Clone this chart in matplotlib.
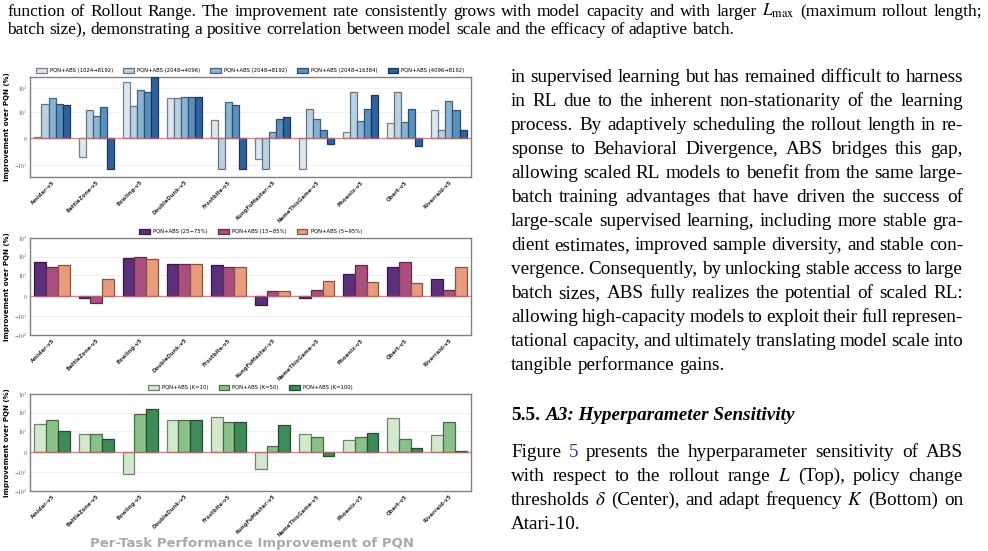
import numpy as np
import matplotlib.pyplot as plt

plt.rcParams['mathtext.fontset'] = 'stix'

W, H = 988, 551

games = ["Amidar-v5", "BattleZone-v5", "Bowling-v5", "DoubleDunk-v5", "Frostbite-v5",
         "KungFuMaster-v5", "NameThisGame-v5", "Phoenix-v5", "Qbert-v5", "Riverraid-v5"]

# top: rollout range
range_labels = ["PQN+ABS (1024→8192)", "PQN+ABS (2048→4096)", "PQN+ABS (2048→8192)",
                "PQN+ABS (2048→16384)", "PQN+ABS (4096→8192)"]
r_1024_8192 = [0.4, -7.1, 177, 40, 7.0, -7.9, -14.7, 2.5, 6.0, 11.8]
r_2048_4096 = [21, 11.8, 17, 40, -14.7, -14.7, 12.9, 67, 67, 3.3]
r_2048_8192 = [39, 8.3, 80, 42, 27, 2.4, 7.3, 6.7, 6.3, 29]
r_2048_16384 = [22, 15.5, 71, 42, 19.6, 7.3, 3.0, 12.9, 12.9, 12.5]
r_4096_8192 = [19, -15, 277, 41, -15.5, 8.2, -2.0, 49, -2.7, 3.3]
range_colors = ["#dce7f2", "#b9d1e5", "#87b5d5", "#5990bf", "#2f629c"]

# middle: policy change thresholds
delta_labels = ["PQN+ABS (25−75%)", "PQN+ABS (15−85%)", "PQN+ABS (5−95%)"]
d_25_75 = [50, -1.3, 86, 40, 34, -4.5, -0.9, 11.2, 26, 8.2]
d_15_85 = [28, -3.5, 96, 40, 26, 2.3, 3.0, 37, 48, 3.0]
d_5_95 = [34, 8.3, 76, 40, 26, 2.3, 7.0, 6.8, 6.2, 28]
delta_colors = ["#5c2e7b", "#aa4f80", "#e99b7d"]

# bottom: adapt frequency
k_labels = ["PQN+ABS (K=10)", "PQN+ABS (K=50)", "PQN+ABS (K=100)"]
k_10 = [24, 8.5, -12, 42, 60, -8.4, 8.5, 5.5, 48, 8.0]
k_50 = [39, 8.5, 86, 42, 30, 2.6, 7.3, 7.0, 6.3, 31]
k_100 = [9.9, 6.2, 155, 39, 33, 21, -2.2, 9.1, 1.9, 0.3]
k_colors = ["#d3e9cc", "#89c188", "#3f8a58"]


def edge(c):
    rgb = np.array(plt.matplotlib.colors.to_rgb(c))
    return tuple(rgb * 0.55)


def panel(rect, series, labels, colors, yticks, yticklabels, ylim, colsp):
    x0, y0, x1, y1 = rect
    ax = fig.add_axes([x0 / W, 1 - y1 / H, (x1 - x0) / W, (y1 - y0) / H])
    ax.set_yscale('symlog', linthresh=10, linscale=1)
    x = np.arange(len(games))
    n = len(series)
    w = 0.8 / n
    for i, (vals, lab, c) in enumerate(zip(series, labels, colors)):
        ax.bar(x - 0.4 + w * (i + 0.5), vals, w, color=c, edgecolor=edge(c),
               linewidth=0.9, label=lab, zorder=3)
    ax.axhline(0, color="#e06666", lw=1.0, alpha=0.8, zorder=4)
    ax.set_xlim(-0.5, len(games) - 0.5)
    ax.set_ylim(*ylim)
    ax.set_yticks(yticks)
    ax.set_yticklabels(yticklabels, fontsize=4, color="#555555")
    ax.yaxis.set_minor_locator(plt.NullLocator())
    ax.set_xticks(x)
    ax.set_xticklabels(games, rotation=45, ha='right', rotation_mode='anchor',
                       fontsize=3.9, fontweight='bold', color="#333333")
    ax.tick_params(length=0, pad=2)
    ax.grid(axis='y', color="#eeeeee", lw=0.6, zorder=0)
    for s in ax.spines.values():
        s.set_color("#808080")
        s.set_linewidth(1.0)
    ax.set_ylabel("Improvement over PQN (%)", fontsize=5, fontweight='bold', labelpad=3)
    ax.legend(loc='lower center', bbox_to_anchor=(0.5, 1.0), ncol=n, frameon=False,
              fontsize=3.8, handlelength=2.0, handleheight=0.9, columnspacing=colsp,
              handletextpad=0.6, borderaxespad=0.3)
    return ax


fig = plt.figure(figsize=(W / 100, H / 100), dpi=100)

panel((30, 77, 471, 177),
      [r_1024_8192, r_2048_4096, r_2048_8192, r_2048_16384, r_4096_8192],
      range_labels, range_colors,
      [-10, 0, 10, 100], [r'$-10^{1}$', r'$0$', r'$10^{1}$', r'$10^{2}$'], (-32, 290), 1.9)
big_ticks = [-100, -10, 0, 10, 100, 1000]
big_labels = [r'$-10^{2}$', r'$-10^{1}$', r'$0$', r'$10^{1}$', r'$10^{2}$', r'$10^{3}$']
panel((30, 238, 471, 335), [d_25_75, d_15_85, d_5_95], delta_labels, delta_colors,
      big_ticks, big_labels, (-100, 1000), 2.0)
panel((30, 394, 471, 491), [k_10, k_50, k_100], k_labels, k_colors,
      big_ticks, big_labels, (-100, 1000), 2.0)

# ---- surrounding page text ----
serif = "Liberation Serif"
renderer = fig.canvas.get_renderer()


def put_line(words, x0, x1, y, size, justify, style='normal', weight='normal', colors=None):
    colors = colors or {}
    ts = [fig.text(0, 1 - y / H, wd, fontsize=size, family=serif, va='baseline',
                   style=style, weight=weight, color=colors.get(wd, 'black'))
          for wd in words]
    widths = [t.get_window_extent(renderer).width for t in ts]
    if justify and len(words) > 1:
        gap = (x1 - x0 - sum(widths)) / (len(words) - 1)
    else:
        gap = size * 100 / 72 * 0.25
    x = x0
    for t, wd in zip(ts, widths):
        t.set_x(x / W)
        x += wd + gap


caption = [
    "function of Rollout Range. The improvement rate consistently grows with model capacity and with larger $L_{\\max}$ (maximum rollout length;",
    "batch size), demonstrating a positive correlation between model scale and the efficacy of adaptive batch.",
]
for i, ln in enumerate(caption):
    put_line(ln.split(' '), 7, 982, 16 + 18.5 * i, 12.5, i == 0)

body = [
    "in supervised learning but has remained difficult to harness",
    "in RL due to the inherent non-stationarity of the learning",
    "process. By adaptively scheduling the rollout length in re-",
    "sponse to Behavioral Divergence, ABS bridges this gap,",
    "allowing scaled RL models to benefit from the same large-",
    "batch training advantages that have driven the success of",
    "large-scale supervised learning, including more stable gra-",
    "dient estimates, improved sample diversity, and stable con-",
    "vergence. Consequently, by unlocking stable access to large",
    "batch sizes, ABS fully realizes the potential of scaled RL:",
    "allowing high-capacity models to exploit their full represen-",
    "tational capacity, and ultimately translating model scale into",
    "tangible performance gains.",
]
for i, ln in enumerate(body):
    put_line(ln.split(' '), 511, 963, 82 + 24 * i, 13.8, i < len(body) - 1)

fig.text(511 / W, 1 - 420 / H, "5.5.", fontsize=13.8, family=serif, weight='bold', va='baseline')
fig.text(546 / W, 1 - 420 / H, "A3: Hyperparameter Sensitivity", fontsize=13.8, family=serif,
         weight='bold', style='italic', va='baseline')

para = [
    "Figure 5 presents the hyperparameter sensitivity of ABS",
    "with respect to the rollout range $L$ (Top), policy change",
    "thresholds $\\delta$ (Center), and adapt frequency $K$ (Bottom) on",
    "Atari-10.",
]
for i, ln in enumerate(para):
    put_line(ln.split(' '), 511, 963, 457 + 24 * i, 13.8, i < len(para) - 1,
             colors={"5": "#1f3fb0"})

fig.text(90 / W, 1 - 550 / H, "Per-Task Performance Improvement of PQN", fontsize=9.5,
         weight='bold', color="#aaaaaa", va='bottom')

fig.savefig("out.png", dpi=100)
